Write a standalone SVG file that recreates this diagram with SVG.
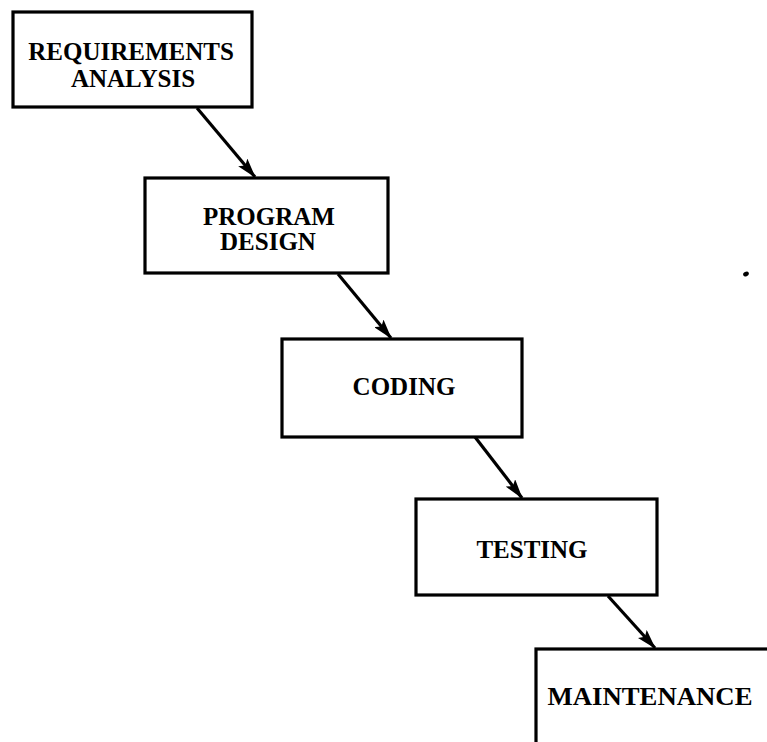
<svg xmlns="http://www.w3.org/2000/svg" width="767" height="742" viewBox="0 0 767 742">
<style>
.box{fill:#fff;stroke:#000;stroke-width:3.2}
.lbl{font-family:"Liberation Serif","Times New Roman",serif;font-weight:bold;font-size:25px;fill:#000;text-anchor:middle}
.conn{stroke:#000;stroke-width:3.2;fill:none;marker-end:url(#ah)}
</style>
<defs>
<marker id="ah" viewBox="0 0 20 12" refX="19" refY="6" markerWidth="20" markerHeight="12" markerUnits="userSpaceOnUse" orient="auto">
<path d="M0,0 L20,6 L0,12 L4,6 Z" fill="#000"/>
</marker>
</defs>
<rect width="767" height="742" fill="#fff"/>
<g id="connectors">
<line class="conn" x1="197" y1="108" x2="255" y2="177"/>
<line class="conn" x1="338" y1="274" x2="391" y2="338"/>
<line class="conn" x1="475" y1="437" x2="522" y2="498"/>
<line class="conn" x1="608" y1="596" x2="655" y2="648"/>
</g>
<g id="requirements">
<rect class="box" x="13" y="12" width="239" height="95"/>
<text class="lbl" x="131" y="60">REQUIREMENTS</text>
<text class="lbl" x="133" y="87">ANALYSIS</text>
</g>
<g id="design">
<rect class="box" x="145" y="178" width="243" height="95"/>
<text class="lbl" x="269" y="225">PROGRAM</text>
<text class="lbl" x="268" y="250">DESIGN</text>
</g>
<g id="coding">
<rect class="box" x="282" y="339" width="240" height="98"/>
<text class="lbl" x="404" y="395">CODING</text>
</g>
<g id="testing">
<rect class="box" x="416" y="499" width="241" height="96"/>
<text class="lbl" x="532" y="558">TESTING</text>
</g>
<g id="maintenance">
<rect class="box" x="536" y="649" width="240" height="110"/>
<text class="lbl" x="650" y="705" textLength="205" lengthAdjust="spacingAndGlyphs">MAINTENANCE</text>
</g>
<ellipse cx="746" cy="274" rx="3" ry="2.2" fill="#000" transform="rotate(-30 746 274)"/>
</svg>
